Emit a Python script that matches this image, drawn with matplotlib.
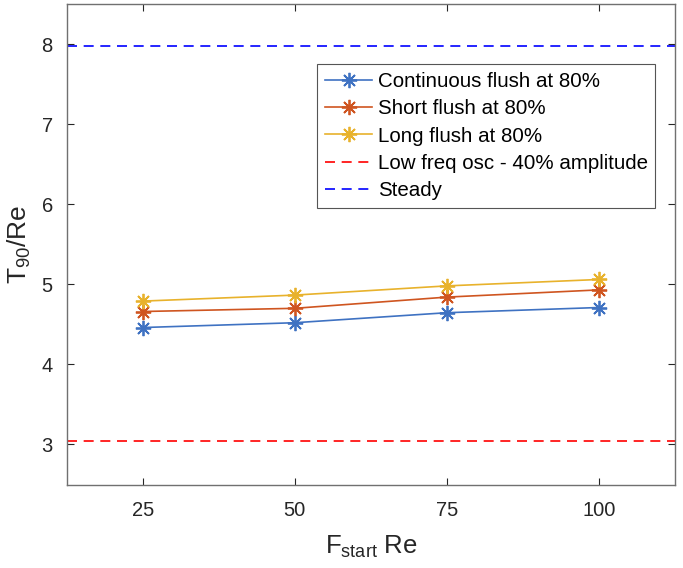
import matplotlib
matplotlib.use("Agg")
import matplotlib.pyplot as plt

plt.rcParams['font.family'] = ['Liberation Sans', 'DejaVu Sans']
plt.rcParams['mathtext.default'] = 'regular'

f_start = [25, 50, 75, 100]
continuous = [4.46, 4.52, 4.645, 4.71]
short = [4.66, 4.70, 4.84, 4.93]
long_ = [4.79, 4.865, 4.98, 5.06]
low_freq = 3.045
steady = 7.975

asterisk = (8, 2, 0)

fig = plt.figure(figsize=(6.83, 5.68), dpi=100)
ax = fig.add_axes([0.0977, 0.147, 0.8906, 0.846])

ax.plot(f_start, continuous, '-', marker=asterisk, color='#3F72C2', lw=1.2, ms=11, mew=1.3,
        label='Continuous flush at 80%')
ax.plot(f_start, short, '-', marker=asterisk, color='#CF5520', lw=1.2, ms=11, mew=1.3,
        label='Short flush at 80%')
ax.plot(f_start, long_, '-', marker=asterisk, color='#E8B22C', lw=1.2, ms=11, mew=1.3,
        label='Long flush at 80%')
ax.axhline(low_freq, color='#FF0000', ls=(0, (6, 4)), lw=1.2, label='Low freq osc - 40% amplitude')
ax.axhline(steady, color='#0000FF', ls=(0, (6, 4)), lw=1.2, label='Steady')

ax.set_xlim(12.5, 112.5)
ax.set_ylim(2.5, 8.5)
ax.set_xticks(f_start)
ax.set_yticks([3, 4, 5, 6, 7, 8])
ax.tick_params(direction='in', top=True, right=True, labelsize=14.5, colors='#262626',
               length=5, width=0.8)
ax.tick_params(axis='x', pad=12)
ax.tick_params(axis='y', pad=10)
for s in ax.spines.values():
    s.set_color('#707070')
    s.set_linewidth(1.0)

ax.set_xlabel(r'F$_{start}$ Re', fontsize=18.5, color='#262626', labelpad=10)
ax.set_ylabel(r'T$_{90}$/Re', fontsize=19, color='#262626', labelpad=6)

leg = ax.legend(loc='upper left', bbox_to_anchor=(0.412, 0.8745), fontsize=14.8,
                frameon=True, fancybox=False, edgecolor='#555555', framealpha=1,
                borderpad=0.38, labelspacing=0.4, handlelength=2.3, handletextpad=0.25,
                borderaxespad=0)
leg.get_frame().set_linewidth(0.8)

fig.savefig('out.png', dpi=100)
